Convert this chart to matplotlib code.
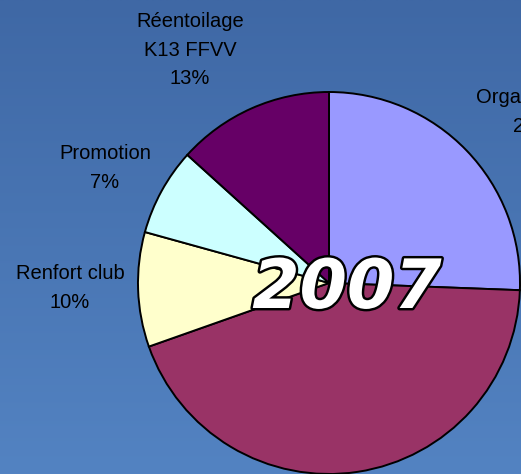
import numpy as np
import matplotlib
matplotlib.use("Agg")
import matplotlib.pyplot as plt
import matplotlib.patheffects as pe
from matplotlib.colors import LinearSegmentedColormap

# slices, clockwise from 12 o'clock
categories = ["Organisation", "", "Renfort club", "Promotion", "Réentoilage\nK13 FFVV"]
values = [25.6, 44.0, 9.7, 7.4, 13.3]
colors = ["#9999FF", "#993366", "#FFFFCC", "#CCFFFF", "#660066"]
year = "2007"

W, H = 521, 474
fig = plt.figure(figsize=(W / 100, H / 100), dpi=100)
ax = fig.add_axes([0, 0, 1, 1])

# blue gradient background
bg = LinearSegmentedColormap.from_list("bg", ["#5383C2", "#3F68A5"])
ax.imshow(np.linspace(0, 1, 256).reshape(-1, 1), cmap=bg, aspect="auto",
          extent=(0, W, 0, H), origin="lower", zorder=0)

wedges, _ = ax.pie(values, colors=colors, startangle=90, counterclock=False,
                   center=(329, 191), radius=191,
                   wedgeprops=dict(edgecolor="black", linewidth=1.4))
for w in wedges:
    w.set_zorder(2)

# labels outside the pie
label_pos = [(533, 362), None, (70, 186), (105, 306), (190, 424)]
for name, v, pos in zip(categories, values, label_pos):
    if pos is None:
        continue
    ax.text(pos[0], pos[1], f"{name}\n{v:.0f}%", ha="center", va="center",
            fontsize=14.5, family="Liberation Sans", linespacing=1.65,
            color="black", zorder=3)

ax.text(347, 185, year, ha="center", va="center", fontsize=49,
        fontweight="bold", fontstyle="italic", family="DejaVu Sans",
        color="white", zorder=4,
        path_effects=[pe.withStroke(linewidth=3.5, foreground="black")])

ax.set_xlim(0, W)
ax.set_ylim(0, H)
ax.set_aspect("auto")
ax.axis("off")

fig.savefig("out.png", dpi=100)
